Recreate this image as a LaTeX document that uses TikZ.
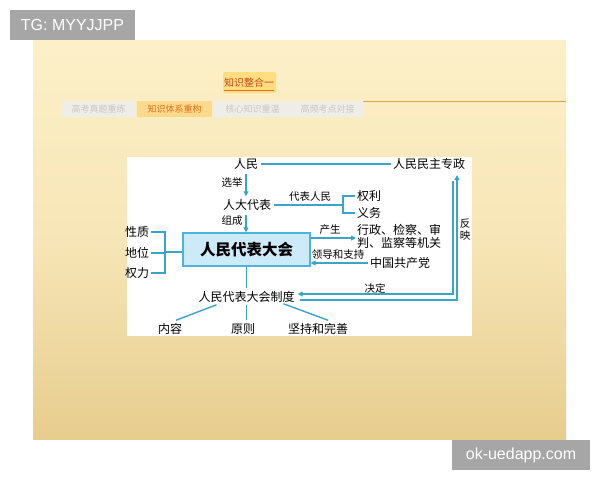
\documentclass[tikz,border=0pt]{standalone}
\usepackage{fontspec}
\setmainfont{Liberation Sans}
\newfontfamily\cjk{Noto Sans CJK SC}
\usetikzlibrary{arrows.meta}
\definecolor{lineblue}{HTML}{3BA5C9}
\definecolor{boxfill}{HTML}{CDEAF8}
\definecolor{boxdraw}{HTML}{4DB3DE}
\definecolor{wmgray}{HTML}{A6A6A6}
\definecolor{slidetop}{HTML}{FDF0C8}
\definecolor{slidebot}{HTML}{E7CD8E}
\definecolor{tabgray}{HTML}{EEEDE8}
\definecolor{tabtxt}{HTML}{C9C7C0}
\definecolor{taborange}{HTML}{FCD98C}
\definecolor{titlefill}{HTML}{FFDD80}
\definecolor{orangetxt}{HTML}{E2711D}
\definecolor{titletxt}{HTML}{C4481A}
\definecolor{ruleorange}{HTML}{E2A63C}
\tikzset{
  txt/.style={inner sep=0pt,font=\cjk\fontsize{12}{13}\selectfont},
  lbl/.style={inner sep=0pt,font=\cjk\fontsize{10.5}{11.5}\selectfont},
  conn/.style={draw=lineblue,line width=1.4pt},
  arr/.style={conn,-{Triangle[length=5pt,width=5pt]}},
  wm/.style={fill=wmgray,text=white,inner sep=0pt,font=\fontsize{16}{18}\selectfont},
  tabbox/.style={fill=tabgray,text=tabtxt,inner sep=0pt,minimum height=16pt,font=\cjk\fontsize{9}{10}\selectfont},
}
\begin{document}
\begin{tikzpicture}[x=1pt,y=-1pt]
\useasboundingbox (0,0) rectangle (600,480);
\fill[white] (0,0) rectangle (600,480);
% slide background
\shade[top color=slidetop,bottom color=slidebot,middle color=slidetop!70!slidebot] (33,40) rectangle (566,439);
% watermarks
\node[wm,minimum width=125pt,minimum height=30pt] (tg) at (72.5,25) {TG: MYYJJPP};
\node[wm,minimum width=138pt,minimum height=30pt] (ok) at (521,455) {ok-uedapp.com};
% header
\draw[ruleorange,line width=1pt] (290,101) -- (566,101);
\node[fill=titlefill,rounded corners=2pt,minimum width=53pt,minimum height=21pt,inner sep=0pt] (title) at (249.5,82.5) {};
\node[inner sep=0pt,text=titletxt,font=\cjk\fontsize{10}{11}\selectfont] (titletext) at (249,82.5) {知识整合一};
\draw[orangetxt,line width=1pt] ([yshift=-3pt]titletext.south west) -- ([yshift=-3pt]titletext.south east);
\node[tabbox,minimum width=73pt] (tab1) at (98.5,109) {高考真题重练};
\node[tabbox,minimum width=75pt,fill=taborange,text=orangetxt] (tab2) at (174.5,109) {知识体系重构};
\node[tabbox,minimum width=78pt] (tab3) at (252.5,109) {核心知识重温};
\node[tabbox,minimum width=71pt] (tab4) at (327.5,109) {高频考点对接};
% white panel
\fill[white] (127,157) rectangle (472,336);
% nodes
\node[txt] (renmin) at (246,164) {人民};
\node[txt] (zz) at (429,164) {人民民主专政};
\node[txt] (rddb) at (247,205) {人大代表};
\node[txt] (quanli) at (369,196) {权利};
\node[txt] (yiwu) at (369,213) {义务};
\node[draw=boxdraw,line width=1.3pt,fill=boxfill,minimum width=127pt,minimum height=33pt,inner sep=0pt,
      font=\cjk\bfseries\fontsize{15.5}{17}\selectfont] (rdh) at (246.5,249.5) {人民代表大会};
\node[txt] (xingzhi) at (137,232) {性质};
\node[txt] (diwei) at (137,253) {地位};
\node[txt] (quanli2) at (137,273) {权力};
\node[txt,anchor=west,align=left,font=\cjk\fontsize{12}{13}\selectfont] (jg) at (357,236.5) {行政、检察、审\\判、监察等机关};
\node[txt] (dang) at (400,263) {中国共产党};
\node[txt] (zhidu) at (246.5,297) {人民代表大会制度};
\node[txt] (neirong) at (170,329) {内容};
\node[txt] (yuanze) at (243,329) {原则};
\node[txt] (jianchi) at (318,329) {坚持和完善};
% labels
\node[lbl] (lxj) at (232,182) {选举};
\node[lbl] (ldbrm) at (310,197) {代表人民};
\node[lbl] (lzc) at (232,221) {组成};
\node[lbl] (lcs) at (330,230) {产生};
\node[lbl] (lld) at (338,255) {领导和支持};
\node[lbl] (ljd) at (375,288) {决定};
\node[lbl,align=center,font=\cjk\fontsize{10.5}{12}\selectfont] (lfy) at (465,230) {反\\映};
% coordinates
\coordinate (brR) at (343,205);
\coordinate (brL) at (165,252);
\coordinate (jgin) at (356,238);
\coordinate (jdtop) at (453,181);
\coordinate (fytop) at (457,175);
% connectors
\draw[conn] ([xshift=3pt]renmin.east) -- ([xshift=-2pt]zz.west);
\draw[arr] ([yshift=-4pt]renmin.south) -- ([yshift=3pt]renmin.south |- rddb.north);
\draw[arr] ([yshift=-4pt]renmin.south |- rddb.south) -- (renmin.south |- rdh.north);
\draw[conn] ([xshift=3pt]rddb.east) -- (brR);
\draw[conn] ([xshift=-2pt]quanli.west) -| (brR) |- ([xshift=-2pt]yiwu.west);
\draw[conn] (rdh.west |- brL) -- (brL);
\draw[conn] ([xshift=2pt]xingzhi.east) -| (brL) |- ([xshift=2pt]quanli2.east);
\draw[conn] ([xshift=2pt]diwei.east) -- (diwei.east -| brL);
\draw[arr] (rdh.east |- jgin) -- (jgin);
\draw[arr] ([xshift=-2pt]dang.west) -- (rdh.east |- dang.west);
\draw[conn] (rdh.south) -- ([yshift=3pt]zhidu.north);
\draw[arr] (jdtop) |- ([xshift=3pt,yshift=3pt]zhidu.east);
\draw[arr] ([xshift=5pt,yshift=-3pt]zhidu.east) -| (fytop);
\draw[conn] ([xshift=-30pt,yshift=-2pt]zhidu.south) -- ([xshift=6pt,yshift=3pt]neirong.north);
\draw[conn] ([yshift=-2pt]zhidu.south) -- ([yshift=3pt]zhidu.south |- yuanze.north);
\draw[conn] ([xshift=37pt,yshift=-1pt]zhidu.south) -- ([xshift=10pt,yshift=3pt]jianchi.north);
\end{tikzpicture}
\end{document}
